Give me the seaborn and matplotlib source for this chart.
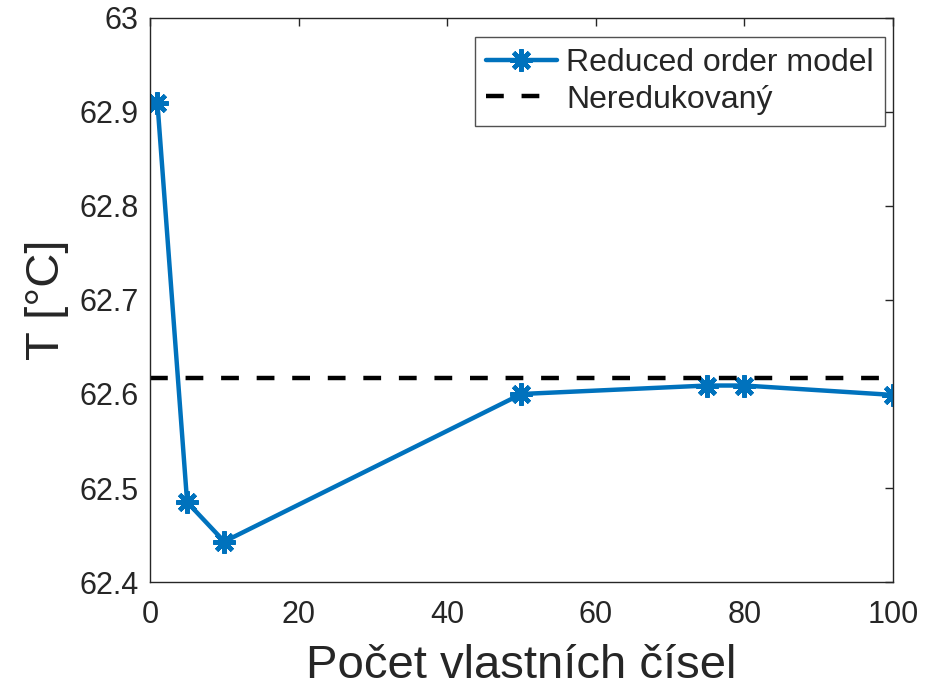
import matplotlib
matplotlib.use("Agg")
import matplotlib.pyplot as plt
import seaborn as sns
import pandas as pd

n_eig = [1, 5, 10, 50, 75, 80, 100]
temp = [62.91, 62.485, 62.443, 62.600, 62.609, 62.609, 62.599]
full_T = 62.617
x_ticks = [0, 20, 40, 60, 80, 100]
y_ticks = [62.4, 62.5, 62.6, 62.7, 62.8, 62.9, 63.0]
y_labels = ["62.4", "62.5", "62.6", "62.7", "62.8", "62.9", "63"]

sns.set_style("white")
plt.rcParams['font.family'] = ['Liberation Sans', 'DejaVu Sans']

df = pd.DataFrame({"n": n_eig, "T": temp})
fig = plt.figure(figsize=(9.35, 6.9), dpi=100)
ax = fig.add_axes([0.1604, 0.1565, 0.955 - 0.1604, 0.974 - 0.1565])

sns.lineplot(data=df, x="n", y="T", ax=ax, color="#0072BD", linewidth=3.2,
             marker=(8, 2, 0), markersize=16, markeredgewidth=3.2,
             markeredgecolor="#0072BD", label="Reduced order model")
ax.axhline(full_T, color="black", linestyle=(0, (4, 4)), linewidth=3.2, label="Neredukovaný")

ax.set_xlim(0, 100)
ax.set_ylim(62.4, 63.0)
ax.set_xticks(x_ticks)
ax.set_yticks(y_ticks)
ax.set_yticklabels(y_labels)
ax.tick_params(axis="both", direction="in", length=6, width=1, colors="#262626",
               labelsize=22, top=True, right=True, pad=8)
ax.tick_params(axis="x", pad=13)
for lbl in ax.get_xticklabels() + ax.get_yticklabels():
    lbl.set_color("#262626")
for s in ax.spines.values():
    s.set_color("#262626")
    s.set_linewidth(1)
ax.set_xlabel("Počet vlastních čísel", fontsize=34, color="#262626", labelpad=10)
ax.set_ylabel("T [°C]", fontsize=34, color="#262626", labelpad=8)

leg = ax.legend(loc="upper right", bbox_to_anchor=(885 / 935, (690 - 37) / 690),
                bbox_transform=fig.transFigure, fontsize=23, frameon=True,
                fancybox=False, edgecolor="#262626", borderpad=0.35, handlelength=2.2,
                handletextpad=0.3, labelspacing=0.2, borderaxespad=0)
leg.get_frame().set_linewidth(1)

fig.savefig("out.png", dpi=100)
